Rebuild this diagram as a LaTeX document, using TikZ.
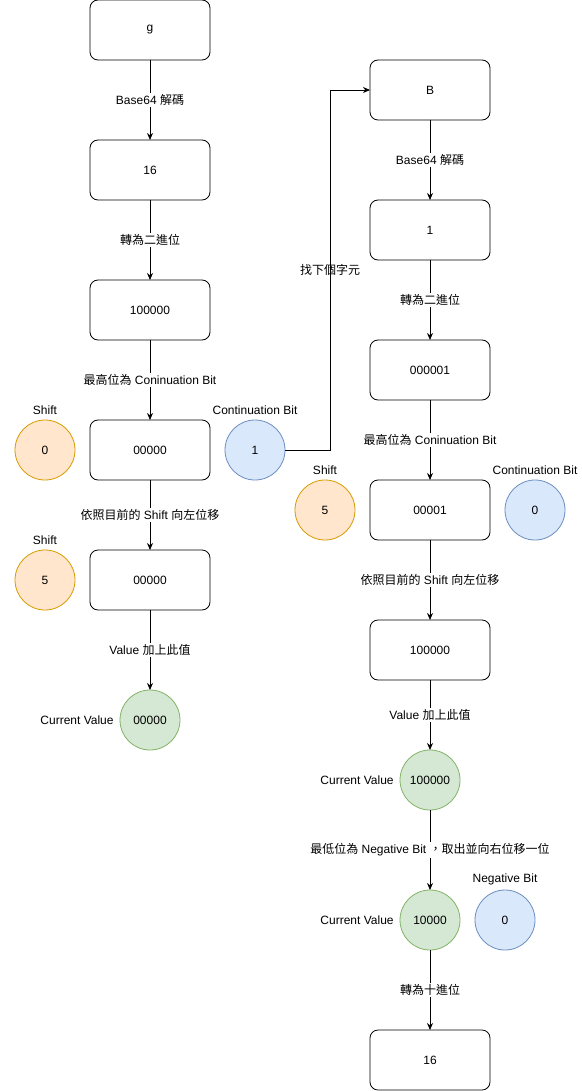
\documentclass[tikz,border=0pt]{standalone}
\usepackage{fontspec}
\setmainfont{Liberation Sans}
\newfontfamily\cjk{Noto Sans CJK TC}
\usepackage{xcolor}
\usetikzlibrary{positioning,arrows.meta,calc}

\definecolor{shiftfill}{HTML}{FFE6CC}\definecolor{shiftline}{HTML}{D79B00}
\definecolor{bitfill}{HTML}{DAE8FC}\definecolor{bitline}{HTML}{6C8EBF}
\definecolor{valfill}{HTML}{D5E8D4}\definecolor{valline}{HTML}{82B366}

\begin{document}
\begin{tikzpicture}[x=1pt, y=-1pt, font=\fontsize{12}{14}\selectfont,
  node distance=80pt and 15pt, line width=0.8pt,
  box/.style={draw, rounded corners=8pt, minimum width=120pt, minimum height=60pt, outer sep=0pt},
  circ/.style={circle, draw, minimum size=60pt, inner sep=0pt, outer sep=0pt},
  shiftc/.style={circ, fill=shiftfill, draw=shiftline},
  bitc/.style={circ, fill=bitfill, draw=bitline},
  valc/.style={circ, fill=valfill, draw=valline},
  tag/.style={inner sep=2pt},
  lbl/.style={fill=white, inner sep=1.5pt},
  arr/.style={-{Stealth[length=7pt, width=6pt]}}]
\useasboundingbox (0,0) rectangle (581,1091);
% left column: character g
\node[box] (g) at (150,30) {g};
\node[box, below=of g] (g16) {16};
\node[box, below=of g16] (gbin) {100000};
\node[box, below=of gbin] (gbits) {00000};
\node[box, below=70pt of gbits] (gshl) {00000};
\node[valc, below=of gshl] (gval) {00000};
\node[shiftc, left=of gbits] (gsh0) {0};
\node[tag, above=3pt of gsh0] (gsh0t) {Shift};
\node[shiftc, left=of gshl] (gsh5) {5};
\node[tag, above=3pt of gsh5] (gsh5t) {Shift};
\node[bitc, right=of gbits] (gcb) {1};
\node[tag, above=3pt of gcb] (gcbt) {Continuation Bit};
\node[tag, left=4pt of gval] (gvalt) {Current Value};
% right column: character B
\node[box] (b) at (430,90) {B};
\node[box, below=of b] (b1) {1};
\node[box, below=of b1] (bbin) {000001};
\node[box, below=of bbin] (bbits) {00001};
\node[box, below=of bbits] (bshl) {100000};
\node[valc, below=70pt of bshl] (bval) {100000};
\node[valc, below=of bval] (bneg) {10000};
\node[box, below=of bneg] (b16) {16};
\node[shiftc, left=of bbits] (bsh5) {5};
\node[tag, above=3pt of bsh5] (bsh5t) {Shift};
\node[bitc, right=of bbits] (bcb) {0};
\node[tag, above=3pt of bcb] (bcbt) {Continuation Bit};
\node[bitc, right=of bneg] (bnb) {0};
\node[tag, above=3pt of bnb] (bnbt) {Negative Bit};
\node[tag, left=4pt of bval] (bvalt) {Current Value};
\node[tag, left=4pt of bneg] (bnegt) {Current Value};

\draw[arr] (g) -- node[lbl] {Base64 {\cjk 解碼}} (g16);
\draw[arr] (g16) -- node[lbl] {\cjk 轉為二進位} (gbin);
\draw[arr] (gbin) -- node[lbl] {{\cjk 最高位為} Coninuation Bit} (gbits);
\draw[arr] (gbits) -- node[lbl] {{\cjk 依照目前的} Shift {\cjk 向左位移}} (gshl);
\draw[arr] (gshl) -- node[lbl] {Value {\cjk 加上此值}} (gval);
\draw[arr] (gcb.east) -- ++(45,0) |- node[pos=0.25, inner sep=0pt] {\cjk 找下個字元} (b);
\draw[arr] (b) -- node[lbl] {Base64 {\cjk 解碼}} (b1);
\draw[arr] (b1) -- node[lbl] {\cjk 轉為二進位} (bbin);
\draw[arr] (bbin) -- node[lbl] {{\cjk 最高位為} Coninuation Bit} (bbits);
\draw[arr] (bbits) -- node[lbl] {{\cjk 依照目前的} Shift {\cjk 向左位移}} (bshl);
\draw[arr] (bshl) -- node[lbl] {Value {\cjk 加上此值}} (bval);
\draw[arr] (bval) -- node[lbl] {{\cjk 最低位為} Negative Bit {\cjk ，取出並向右位移一位}} (bneg);
\draw[arr] (bneg) -- node[lbl] {\cjk 轉為十進位} (b16);
\end{tikzpicture}
\end{document}
